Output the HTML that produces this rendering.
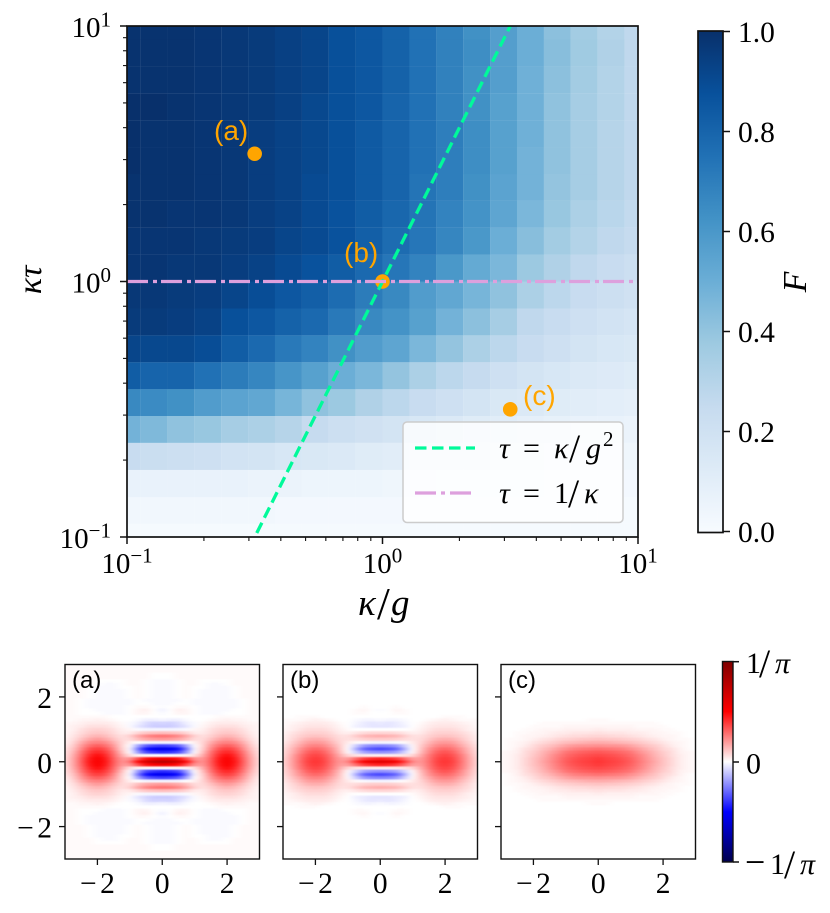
<!DOCTYPE html>
<html lang="en">
<head>
<meta charset="utf-8">
<title>Fidelity map and Wigner functions</title>
<style>
html,body{margin:0;padding:0;background:#fff;width:830px;height:913px;overflow:hidden}
svg{display:block}
text{font-family:"Liberation Serif","DejaVu Serif",serif;fill:#000}
.sans{font-family:"Liberation Sans","DejaVu Sans",sans-serif}
.frame{fill:none;stroke:#111;stroke-width:1.7}
.pt{fill:none;stroke:#111;stroke-width:1.5}
.i{font-style:italic}
</style>
</head>
<body>
<svg id="chart" xmlns="http://www.w3.org/2000/svg" width="830" height="913" viewBox="0 0 830 913">
<defs>
<linearGradient id="blues-gradient" x1="0" y1="1" x2="0" y2="0">
<stop offset="0" stop-color="#f7fbff"/><stop offset=".125" stop-color="#deebf7"/><stop offset=".25" stop-color="#c6dbef"/><stop offset=".375" stop-color="#9ecae1"/><stop offset=".5" stop-color="#6baed6"/><stop offset=".625" stop-color="#4292c6"/><stop offset=".75" stop-color="#2171b5"/><stop offset=".875" stop-color="#08519c"/><stop offset="1" stop-color="#08306b"/>
</linearGradient>
<linearGradient id="seismic-gradient" x1="0" y1="1" x2="0" y2="0">
<stop offset="0" stop-color="#00004c"/><stop offset=".25" stop-color="#0000ff"/><stop offset=".5" stop-color="#ffffff"/><stop offset=".75" stop-color="#ff0000"/><stop offset="1" stop-color="#800000"/>
</linearGradient>
<filter id="smooth" filterUnits="userSpaceOnUse" x="0" y="640" width="720" height="240" color-interpolation-filters="sRGB"><feGaussianBlur stdDeviation="3.6 0.9"/></filter>
<clipPath id="clip-main"><rect x="127" y="26" width="511" height="511"/></clipPath>
<clipPath id="clip-a"><rect x="65" y="664.5" width="194.5" height="194.5"/></clipPath>
<clipPath id="clip-b"><rect x="283" y="664.5" width="194.5" height="194.5"/></clipPath>
<clipPath id="clip-c"><rect x="501" y="664.5" width="194.5" height="194.5"/></clipPath>
</defs>

<g id="heatmap" clip-path="url(#clip-main)"></g>
<g id="markers" clip-path="url(#clip-main)"></g>
<g id="lines" clip-path="url(#clip-main)"></g>
<rect class="frame" x="127" y="26" width="511" height="511"/>
<g id="main-ticks"></g>

<text class="sans" x="214" y="140" font-size="28" style="fill:#ffa500">(a)</text>
<text class="sans" x="344" y="262" font-size="28" style="fill:#ffa500">(b)</text>
<text class="sans" x="523" y="405" font-size="28" style="fill:#ffa500">(c)</text>

<g>
<rect x="403" y="422" width="220" height="100.5" rx="4" fill="#fff" fill-opacity=".8" stroke="#ccc" stroke-width="1.5"/>
<line x1="415" y1="448" x2="475" y2="448" stroke="#00fa9a" stroke-width="3.3" stroke-dasharray="11.5 5.5"/>
<line x1="415" y1="493" x2="475" y2="493" stroke="#dda0dd" stroke-width="3.3" stroke-dasharray="21 5 4 5"/>
<text y="458" font-size="30"><tspan class="i" x="499">τ</tspan><tspan x="523">=</tspan><tspan class="i" x="554">κ</tspan><tspan x="569" font-size="40" dy="4">/</tspan><tspan class="i" x="586" dy="-4">g</tspan><tspan x="603" font-size="21" dy="-12">2</tspan></text>
<text y="503" font-size="30"><tspan class="i" x="499">τ</tspan><tspan x="523">=</tspan><tspan x="554">1</tspan><tspan x="568" font-size="40" dy="4">/</tspan><tspan class="i" x="584" dy="-4">κ</tspan></text>
</g>

<text y="615" font-size="37"><tspan class="i" x="358">κ</tspan><tspan x="377" font-size="46" dy="4">/</tspan><tspan class="i" x="391" dy="-4">g</tspan></text>
<text transform="translate(41,280) rotate(-90)" font-size="34" text-anchor="middle"><tspan class="i">κτ</tspan></text>

<rect x="698" y="31" width="25" height="501.5" fill="url(#blues-gradient)"/>
<rect class="frame" x="698" y="31" width="25" height="501.5"/>
<g id="cbar-ticks"></g>
<text transform="translate(806,282) rotate(-90)" font-size="34" text-anchor="middle" class="i">F</text>

<g id="wigner-a" clip-path="url(#clip-a)"></g>
<g id="wigner-b" clip-path="url(#clip-b)"></g>
<g id="wigner-c" clip-path="url(#clip-c)"></g>
<rect class="frame" style="stroke-width:1.4" x="65" y="664.5" width="194.5" height="194.5"/>
<rect class="frame" style="stroke-width:1.4" x="283" y="664.5" width="194.5" height="194.5"/>
<rect class="frame" style="stroke-width:1.4" x="501" y="664.5" width="194.5" height="194.5"/>
<g id="wigner-ticks"></g>
<text class="sans" x="72" y="688" font-size="24">(a)</text>
<text class="sans" x="290" y="688" font-size="24">(b)</text>
<text class="sans" x="508" y="688" font-size="24">(c)</text>

<rect x="722.5" y="661.5" width="10.5" height="200.5" fill="url(#seismic-gradient)"/>
<rect class="frame" style="stroke-width:1.4" x="722.5" y="661.5" width="10.5" height="200.5"/>
<g>
<line class="pt" x1="733" x2="739" y1="661.7" y2="661.7"/>
<line class="pt" x1="733" x2="739" y1="762" y2="762"/>
<line class="pt" x1="733" x2="739" y1="862" y2="862"/>
<text y="673" font-size="30"><tspan x="746">1</tspan><tspan x="759" font-size="40" dy="4">/</tspan><tspan class="i" x="775" dy="-4">π</tspan></text>
<text x="746" y="773.5" font-size="30">0</text>
<text y="874" font-size="30"><tspan x="745" font-size="36">−</tspan><tspan x="770">1</tspan><tspan x="784" font-size="40" dy="4">/</tspan><tspan class="i" x="800" dy="-4">π</tspan></text>
</g>
</svg>

<script>
// ---------- main heatmap data ----------
const kappaGrid = [0.1,0.127,0.162,0.207,0.264,0.336,0.428,0.546,0.695,0.886,1.129,1.438,1.833,2.336,2.976,3.793,4.833,6.158,7.848,10];
const tauGrid = [0.1,0.127,0.162,0.207,0.264,0.336,0.428,0.546,0.695,0.886,1.129,1.438,1.833,2.336,2.976,3.793,4.833,6.158,7.848,10];
const fidelity = [
[.01,.01,.01,.01,.01,.01,.01,.01,.01,.01,.01,.01,.01,.01,.01,.01,.01,.01,.01,.01],
[.03,.03,.03,.03,.03,.03,.02,.02,.02,.02,.02,.02,.02,.02,.01,.01,.01,.01,.01,.01],
[.07,.07,.07,.07,.07,.06,.06,.05,.05,.05,.04,.04,.03,.03,.03,.03,.02,.02,.02,.02],
[.24,.23,.22,.21,.19,.18,.16,.15,.14,.12,.11,.1,.09,.08,.07,.06,.05,.05,.04,.04],
[.48,.45,.41,.39,.35,.33,.3,.25,.22,.2,.18,.16,.14,.12,.11,.09,.08,.07,.07,.06],
[.66,.65,.63,.58,.55,.53,.47,.41,.38,.32,.28,.24,.21,.18,.15,.14,.12,.11,.1,.09],
[.83,.8,.8,.75,.71,.67,.61,.56,.5,.46,.4,.33,.28,.25,.21,.18,.16,.14,.13,.12],
[.92,.91,.91,.89,.83,.78,.72,.68,.63,.58,.54,.46,.4,.33,.28,.24,.21,.18,.16,.15],
[.96,.96,.95,.93,.88,.85,.81,.78,.72,.66,.62,.56,.48,.42,.35,.27,.24,.21,.19,.17],
[.97,.97,.96,.95,.92,.89,.85,.82,.77,.71,.66,.58,.53,.47,.41,.33,.28,.24,.22,.2],
[.98,.98,.97,.97,.95,.93,.9,.87,.83,.78,.73,.68,.6,.52,.46,.38,.32,.27,.24,.22],
[.98,.98,.98,.97,.96,.95,.92,.9,.87,.82,.77,.73,.67,.6,.5,.43,.36,.31,.27,.25],
[.99,.99,.98,.98,.97,.95,.93,.9,.87,.83,.79,.74,.68,.62,.54,.46,.39,.33,.29,.26],
[.99,.99,.99,.98,.97,.95,.93,.9,.88,.84,.8,.74,.7,.63,.55,.48,.4,.35,.3,.27],
[1,.99,.99,.98,.97,.95,.93,.91,.88,.84,.8,.75,.7,.64,.56,.48,.41,.35,.3,.27],
[1,.99,.99,.98,.97,.95,.93,.91,.88,.84,.8,.75,.7,.64,.56,.49,.41,.35,.3,.27],
[1,1,.99,.98,.97,.96,.94,.91,.88,.85,.8,.75,.69,.63,.56,.49,.41,.35,.31,.27],
[.99,.99,.99,.98,.97,.96,.94,.92,.88,.85,.81,.75,.69,.63,.57,.49,.42,.36,.31,.27],
[.99,.99,.99,.98,.97,.96,.94,.92,.88,.85,.81,.75,.69,.64,.57,.5,.43,.37,.32,.27],
[.99,.99,.99,.98,.97,.96,.94,.92,.88,.85,.81,.75,.69,.63,.57,.5,.42,.36,.31,.27]
];
const markerKappa = [0.316,1,3.162];
const markerTau = [3.162,1,0.316];
const greenLineKappa = [0.322,3.25];
const plumLineTau = [1,1];
const plumLineKappa = [0.1,10];
const majorLogTicks = [0.1,1,10];
const minorLogTicks = [0.2,0.3,0.4,0.5,0.6,0.7,0.8,0.9,2,3,4,5,6,7,8,9];
const majorExponents = ["−1","0","1"];
const colorbarTicks = [0,0.2,0.4,0.6,0.8,1];
const colorbarLabels = ["0.0","0.2","0.4","0.6","0.8","1.0"];

// ---------- Wigner quadrant data: rows y = 0…3, columns x = 0…3, units of 0.01 on the colour scale ----------
const wignerTicks = [-2,0,2];
const wignerTickLabels = ["−2","0","2"];
const wignerA = [
[78,74,66,49,27,21,32,46,52,46,32,17,7],
[55,52,47,35,21,20,31,45,51,45,31,17,7],
[0,0,1,2,6,16,29,42,48,42,29,16,6],
[-42,-40,-36,-20,0,12,27,38,43,38,27,14,6],
[-55,-52,-47,-27,-1,9,23,34,38,34,23,12,5],
[-38,-36,-32,-18,0,8,20,28,32,28,20,10,4],
[-2,-2,-2,0,3,8,16,23,25,23,16,8,3],
[20,19,17,13,7,7,12,17,20,17,12,6,3],
[27,26,23,17,9,6,9,13,15,13,9,5,2],
[13,12,11,8,4,4,7,10,11,10,7,4,2],
[-2,-2,-2,-1,2,3,6,8,9,8,6,3,2],
[-10,-10,-8,-5,-1,2,4,6,6,6,4,3,2],
[-8,-9,-7,-3,-1,1,3,4,4,4,3,2,2],
[-2,-3,-3,-1,0,0,1,2,3,2,2,1,1],
[0,0,0,0,0,0,0,1,1,1,1,1,1],
[-1,0,2,2,0,-1,-1,-1,0,0,0,1,1],
[-3,0,3,2,0,-1,-1,-1,-1,0,0,1,1],
[-1,0,1,1,0,-1,-1,-1,-1,-1,0,1,1],
[-1,-1,0,0,-1,-1,-1,-1,-1,-1,0,1,1],
[-1,-1,-1,0,-1,-1,-1,-1,-1,-1,0,1,1],
[-1,-1,0,1,0,-1,-1,-1,-1,0,1,1,1],
[-1,-1,0,1,0,-1,-1,-1,-1,0,1,1,1],
[-1,-1,0,1,0,-1,-1,-1,-1,0,1,1,1],
[-1,-1,0,1,0,0,-1,-1,-1,0,1,1,1],
[-1,-1,0,1,1,0,-1,-1,0,1,1,1,1],
[-1,-1,0,1,1,0,0,0,0,1,1,1,1],
[0,0,1,1,1,1,1,1,1,1,1,1,1],
[0,0,1,1,1,1,1,1,1,1,1,1,1],
[1,1,1,1,1,1,1,1,1,1,1,1,1],
[1,1,1,1,1,1,1,1,1,1,1,1,1],
[1,1,1,1,1,1,1,1,1,1,1,1,1]
];
const wignerB = [
[62,59,53,40,24,20,28,37,40,37,28,17,8],
[44,42,38,29,19,19,27,36,39,36,27,17,8],
[3,3,4,5,8,16,26,34,37,34,26,16,7],
[-22,-21,-18,-9,1,13,23,31,34,31,23,14,7],
[-36,-34,-30,-16,0,11,21,27,30,27,21,13,6],
[-24,-23,-20,-10,1,10,17,23,25,23,17,11,5],
[-2,-2,-1,1,4,8,14,19,20,19,14,9,4],
[10,10,9,7,6,7,11,15,16,15,11,7,3],
[16,15,14,10,6,6,9,11,12,11,9,6,3],
[8,8,7,5,3,4,7,9,9,9,7,5,2],
[0,0,0,0,1,3,5,7,7,7,5,3,2],
[-5,-5,-4,-3,0,2,4,5,5,5,4,3,1],
[-4,-5,-4,-2,0,1,3,4,4,4,3,2,1],
[-1,-2,-2,-1,0,0,1,2,3,2,1,1,1],
[0,0,0,0,0,0,0,0,1,1,1,0,0],
[0,0,1,1,0,0,0,0,0,0,0,0,0],
[-1,0,2,1,0,0,0,0,0,0,0,0,0],
[0,0,1,0,0,0,0,0,0,0,0,0,0],
[0,0,0,0,0,0,0,0,0,0,0,0,0],
[0,0,0,0,0,0,0,0,0,0,0,0,0],
[0,0,0,0,0,0,0,0,0,0,0,0,0],
[0,0,0,0,0,0,0,0,0,0,0,0,0],
[0,0,0,0,0,0,0,0,0,0,0,0,0],
[0,0,0,0,0,0,0,0,0,0,0,0,0],
[0,0,0,0,0,0,0,0,0,0,0,0,0],
[0,0,0,0,0,0,0,0,0,0,0,0,0],
[0,0,0,0,0,0,0,0,0,0,0,0,0],
[0,0,0,0,0,0,0,0,0,0,0,0,0],
[0,0,0,0,0,0,0,0,0,0,0,0,0],
[0,0,0,0,0,0,0,0,0,0,0,0,0],
[0,0,0,0,0,0,0,0,0,0,0,0,0]
];
const wignerC = [
[40,38,37,35,32,27,22,17,12,8,4,2,1],
[39,37,36,34,31,26,21,16,12,8,4,2,1],
[36,35,34,32,29,25,20,15,11,7,4,2,1],
[33,32,31,29,27,22,18,14,10,7,3,2,1],
[28,27,26,25,22,19,15,12,8,6,3,1,0],
[22,21,21,20,18,15,12,10,7,4,2,1,0],
[16,16,15,14,13,11,9,7,5,3,2,1,0],
[12,11,11,10,9,8,6,5,3,2,1,1,0],
[8,8,7,7,6,5,4,3,2,2,1,0,0],
[6,5,5,5,4,4,3,2,2,1,1,0,0],
[4,3,3,3,3,2,2,2,1,1,0,0,0],
[2,2,2,2,2,1,1,1,1,0,0,0,0],
[1,1,1,1,1,1,1,1,0,0,0,0,0],
[1,1,0,0,0,0,0,0,0,0,0,0,0],
[0,0,0,0,0,0,0,0,0,0,0,0,0],
[0,0,0,0,0,0,0,0,0,0,0,0,0],
[0,0,0,0,0,0,0,0,0,0,0,0,0],
[0,0,0,0,0,0,0,0,0,0,0,0,0],
[0,0,0,0,0,0,0,0,0,0,0,0,0],
[0,0,0,0,0,0,0,0,0,0,0,0,0],
[0,0,0,0,0,0,0,0,0,0,0,0,0],
[0,0,0,0,0,0,0,0,0,0,0,0,0],
[0,0,0,0,0,0,0,0,0,0,0,0,0],
[0,0,0,0,0,0,0,0,0,0,0,0,0],
[0,0,0,0,0,0,0,0,0,0,0,0,0],
[0,0,0,0,0,0,0,0,0,0,0,0,0],
[0,0,0,0,0,0,0,0,0,0,0,0,0],
[0,0,0,0,0,0,0,0,0,0,0,0,0],
[0,0,0,0,0,0,0,0,0,0,0,0,0],
[0,0,0,0,0,0,0,0,0,0,0,0,0],
[0,0,0,0,0,0,0,0,0,0,0,0,0]
];

// ---------- helpers ----------
const NS = "http://www.w3.org/2000/svg";
function make(tag, parent, attrs) {
  const el = document.createElementNS(NS, tag);
  for (const k in attrs) el.setAttribute(k, attrs[k]);
  parent.appendChild(el);
  return el;
}
const xKappa = k => 127 + 255.5 * (Math.log10(k) + 1);
const yTau = t => 537 - 255.5 * (Math.log10(t) + 1);
const yBar = v => 531.5 - 500 * v;

const bluesStops = [[247,251,255],[222,235,247],[198,219,239],[158,202,225],[107,174,214],[66,146,198],[33,113,181],[8,81,156],[8,48,107]];
function blues(v) {
  const p = Math.max(0, Math.min(1, v)) * 8, i = Math.min(7, Math.floor(p)), f = p - i;
  const c = bluesStops[i].map((a, n) => Math.round(a + (bluesStops[i + 1][n] - a) * f));
  return "rgb(" + c.join(",") + ")";
}
const seismicStops = [[0,0,76],[0,0,255],[255,255,255],[255,0,0],[128,0,0]];
function seismic(v) {
  const p = (Math.max(-1, Math.min(1, v)) + 1) * 2, i = Math.min(3, Math.floor(p)), f = p - i;
  const c = seismicStops[i].map((a, n) => Math.round(a + (seismicStops[i + 1][n] - a) * f));
  return "rgb(" + c.join(",") + ")";
}

// ---------- main heatmap ----------
const heatmap = document.getElementById("heatmap");
function cellEdges(grid, i) {
  const lo = i === 0 ? grid[0] * grid[0] / grid[1] : grid[i - 1];
  const hi = i === grid.length - 1 ? grid[i] * grid[i] / grid[i - 1] : grid[i + 1];
  return [Math.sqrt(lo * grid[i]), Math.sqrt(grid[i] * hi)];
}
fidelity.forEach((row, j) => {
  const [t0, t1] = cellEdges(tauGrid, j);
  row.forEach((value, i) => {
    const [k0, k1] = cellEdges(kappaGrid, i);
    const cell = make("rect", heatmap, {
      x: xKappa(k0).toFixed(2), y: yTau(t1).toFixed(2),
      width: (xKappa(k1) - xKappa(k0) + 0.1).toFixed(2), height: (yTau(t0) - yTau(t1) + 0.1).toFixed(2),
      fill: blues(value)
    });
    
    
  });
});

// ---------- markers and reference lines ----------
const markers = document.getElementById("markers");
markerKappa.forEach((k, i) => {
  const dot = make("circle", markers, { cx: xKappa(k), cy: yTau(markerTau[i]), r: 7.3, fill: "#ffa500" });
  
  
});
const lines = document.getElementById("lines");
const greenLine = make("line", lines, {
  x1: xKappa(greenLineKappa[0]), y1: yTau(greenLineKappa[0] * greenLineKappa[0]),
  x2: xKappa(greenLineKappa[1]), y2: yTau(greenLineKappa[1] * greenLineKappa[1]),
  stroke: "#00fa9a", "stroke-width": 3.3, "stroke-dasharray": "11.5 5.5"
});


const plumLine = make("line", lines, {
  x1: xKappa(plumLineKappa[0]), y1: yTau(plumLineTau[0]),
  x2: xKappa(plumLineKappa[1]), y2: yTau(plumLineTau[1]),
  stroke: "#dda0dd", "stroke-width": 3.3, "stroke-dasharray": "21 5 4 4"
});



// ---------- main axis ticks ----------
const mainTicks = document.getElementById("main-ticks");
function powerLabel(parent, x, y, anchor, exponent) {
  const t = make("text", parent, { x: x, y: y, "font-size": 29, "text-anchor": anchor });
  
  
  make("tspan", t, {}).textContent = "10";
  make("tspan", t, { "font-size": 21, dy: -10.5 }).textContent = exponent;
}
majorLogTicks.forEach((v, i) => {
  const xt = make("line", mainTicks, { class: "pt", x1: xKappa(v), x2: xKappa(v), y1: 537, y2: 544 });
  
  
  const yt = make("line", mainTicks, { class: "pt", x1: 120, x2: 127, y1: yTau(v), y2: yTau(v) });
  
  
  powerLabel(mainTicks, xKappa(v), 573, "middle", majorExponents[i]);
  powerLabel(mainTicks, 111, yTau(v) + 11, "end", majorExponents[i]);
});
minorLogTicks.forEach(v => {
  const xt = make("line", mainTicks, { class: "pt", style: "stroke-width:1.1", x1: xKappa(v), x2: xKappa(v), y1: 537, y2: 541 });
  
  
  const yt = make("line", mainTicks, { class: "pt", style: "stroke-width:1.1", x1: 123, x2: 127, y1: yTau(v), y2: yTau(v) });
  
  
});

// ---------- fidelity colorbar ticks ----------
const cbarTicks = document.getElementById("cbar-ticks");
colorbarTicks.forEach((v, i) => {
  const tk = make("line", cbarTicks, { class: "pt", x1: 723, x2: 730, y1: yBar(v), y2: yBar(v) });
  
  
  const lb = make("text", cbarTicks, { x: 738, y: yBar(v) + 10.5, "font-size": 29.5 });
  
  
  lb.textContent = colorbarLabels[i];
});

// ---------- Wigner panels ----------
function drawWigner(id, left, quadrant) {
  const group = document.getElementById(id);
  const inner = make("g", group, { filter: "url(#smooth)" });
  
  
  make("rect", inner, { x: left - 10, y: 654, width: 215, height: 215, fill: "#fff" });
  const xW = x => left + (x + 3) * 194.5 / 6;
  const yW = y => 761.75 - y * 194.5 / 6;
  const dx = 0.25, dy = 0.1;
  quadrant.forEach((row, j) => {
    row.forEach((value, i) => {
      const xs = i === 0 ? [1] : [1, -1];
      const ys = j === 0 ? [1] : [1, -1];
      xs.forEach(sx => ys.forEach(sy => {
        const cx = sx * i * dx, cy = sy * j * dy;
        const cell = make("rect", inner, {
          x: (xW(cx - dx / 2) - 0.2).toFixed(2), y: (yW(cy + dy / 2) - 0.2).toFixed(2),
          width: (dx * 194.5 / 6 + 0.4).toFixed(2), height: (dy * 194.5 / 6 + 0.4).toFixed(2),
          fill: seismic(value / 100)
        });
        
        
      }));
    });
  });
}
drawWigner("wigner-a", 65, wignerA);
drawWigner("wigner-b", 283, wignerB);
drawWigner("wigner-c", 501, wignerC);

// ---------- Wigner ticks ----------
const wTicks = document.getElementById("wigner-ticks");
function signedText(el, label) {
  if (label[0] === "−") {
    make("tspan", el, { style: "letter-spacing:3.5px" }).textContent = "−";
    make("tspan", el, {}).textContent = label.slice(1);
  } else {
    el.textContent = label;
  }
}
[65, 283, 501].forEach((left, p) => {
  wignerTicks.forEach((v, i) => {
    const x = left + (v + 3) * 194.5 / 6, y = 761.75 - v * 194.5 / 6;
    const xt = make("line", wTicks, { class: "pt", style: "stroke-width:1.3", x1: x, x2: x, y1: 859, y2: 865 });
    
    
    const yt = make("line", wTicks, { class: "pt", style: "stroke-width:1.3", x1: left - 6, x2: left, y1: y, y2: y });
    
    
    const xl = make("text", wTicks, { x: x, y: 893, "font-size": 29.5, "text-anchor": "middle" });
    
    
    signedText(xl, wignerTickLabels[i]);
    if (p === 0) {
      const yl = make("text", wTicks, { x: 52, y: y + 11, "font-size": 29.5, "text-anchor": "end" });
      
      
      signedText(yl, wignerTickLabels[i]);
    }
  });
});
</script>
</body>
</html>
